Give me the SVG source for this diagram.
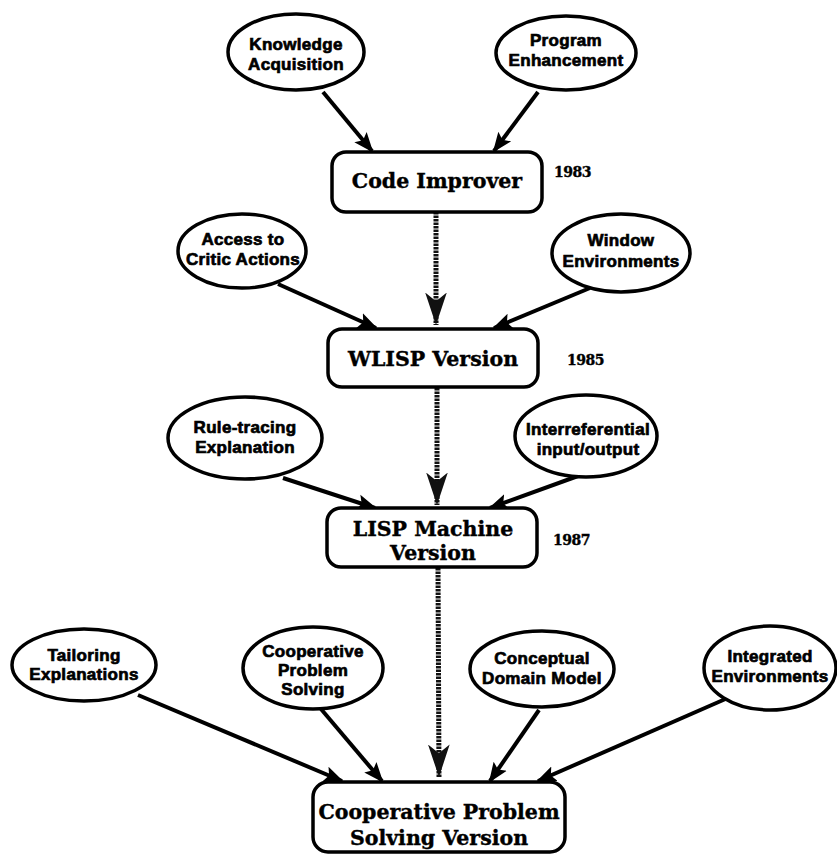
<svg xmlns="http://www.w3.org/2000/svg" width="837" height="856" viewBox="0 0 837 856">
  <style>
    .oval ellipse { fill: #fff; stroke: #000; stroke-width: 3.5; }
    .oval text { font-family: "Liberation Sans", Arial, sans-serif; font-weight: bold; font-size: 17px; text-anchor: middle; fill: #000; stroke: #000; stroke-width: 0.7; letter-spacing: 0.3px; }
    .box rect { fill: #fff; stroke: #000; stroke-width: 3.5; }
    .box text { font-family: "DejaVu Serif", "Liberation Serif", serif; font-weight: bold; font-size: 20.5px; text-anchor: middle; fill: #000; stroke: #000; stroke-width: 0.4; }
    .year { font-family: "DejaVu Serif", "Liberation Serif", serif; font-weight: bold; font-size: 14px; fill: #000; stroke: #000; stroke-width: 0.4; letter-spacing: -0.5px; }
    .edge { stroke: #000; stroke-width: 4; fill: none; marker-end: url(#head); }
    .trunk { stroke: #111; stroke-width: 5; stroke-dasharray: 2.5 1; fill: none; marker-end: url(#trunkhead); }
  </style>
  <defs>
    <marker id="head" viewBox="0 0 10 10" refX="9" refY="5" markerWidth="5" markerHeight="5" orient="auto" markerUnits="strokeWidth">
      <path d="M0,1 L10,5 L0,9 L2,5 Z" fill="#000"/>
    </marker>
    <marker id="trunkhead" viewBox="0 0 15 10" refX="15" refY="5" markerWidth="6.5" markerHeight="4.4" orient="auto" markerUnits="strokeWidth">
      <path d="M0,0 L15,5 L0,10 L4,5 Z" fill="#111"/>
    </marker>
  </defs>

  <g id="connectors">
    <!-- main version line -->
    <line class="trunk" x1="436" y1="212" x2="436" y2="325"/>
    <line class="trunk" x1="437" y1="388" x2="437" y2="505"/>
    <line class="trunk" x1="438" y1="568" x2="439" y2="777"/>
    <!-- feature inputs -->
    <line class="edge" x1="323" y1="92" x2="372" y2="151"/>
    <line class="edge" x1="538" y1="92" x2="494" y2="151"/>
    <line class="edge" x1="278" y1="284" x2="376" y2="328"/>
    <line class="edge" x1="590" y1="288" x2="494" y2="328"/>
    <line class="edge" x1="283" y1="478" x2="375" y2="508"/>
    <line class="edge" x1="578" y1="476" x2="490" y2="508"/>
    <line class="edge" x1="138" y1="695" x2="342" y2="781"/>
    <line class="edge" x1="321" y1="709" x2="382" y2="781"/>
    <line class="edge" x1="539" y1="710" x2="490" y2="781"/>
    <line class="edge" x1="730" y1="697" x2="538" y2="781"/>
  </g>

  <g id="knowledge-acquisition" class="oval">
    <ellipse cx="296" cy="52" rx="68" ry="38"/>
    <text x="296" y="50">Knowledge</text>
    <text x="296" y="70">Acquisition</text>
  </g>
  <g id="program-enhancement" class="oval">
    <ellipse cx="566" cy="53" rx="70" ry="37"/>
    <text x="566" y="46">Program</text>
    <text x="566" y="66">Enhancement</text>
  </g>
  <g id="code-improver" class="box">
    <rect x="332" y="152" width="210" height="60" rx="14"/>
    <text x="437" y="188">Code Improver</text>
  </g>
  <text class="year" x="554" y="177">1983</text>

  <g id="access-critic" class="oval">
    <ellipse cx="242" cy="251" rx="64" ry="37"/>
    <text x="243" y="245">Access to</text>
    <text x="243" y="265">Critic Actions</text>
  </g>
  <g id="window-environments" class="oval">
    <ellipse cx="621" cy="253" rx="69" ry="39"/>
    <text x="621" y="246">Window</text>
    <text x="621" y="267">Environments</text>
  </g>
  <g id="wlisp-version" class="box">
    <rect x="328" y="329" width="210" height="58" rx="14"/>
    <text x="433" y="366">WLISP Version</text>
  </g>
  <text class="year" x="567" y="365">1985</text>

  <g id="rule-tracing" class="oval">
    <ellipse cx="245" cy="438" rx="77" ry="41"/>
    <text x="245" y="433">Rule-tracing</text>
    <text x="245" y="453">Explanation</text>
  </g>
  <g id="interreferential" class="oval">
    <ellipse cx="586" cy="436" rx="71" ry="41"/>
    <text x="588" y="435">Interreferential</text>
    <text x="588" y="455">input/output</text>
  </g>
  <g id="lisp-machine-version" class="box">
    <rect x="327" y="508" width="210" height="59" rx="14"/>
    <text x="433" y="536">LISP Machine</text>
    <text x="433" y="560">Version</text>
  </g>
  <text class="year" x="553" y="545">1987</text>

  <g id="tailoring-explanations" class="oval">
    <ellipse cx="84" cy="665" rx="72" ry="36"/>
    <text x="84" y="661">Tailoring</text>
    <text x="84" y="680">Explanations</text>
  </g>
  <g id="cooperative-problem-solving" class="oval">
    <ellipse cx="313" cy="668" rx="70" ry="41"/>
    <text x="313" y="657">Cooperative</text>
    <text x="313" y="676">Problem</text>
    <text x="313" y="695">Solving</text>
  </g>
  <g id="conceptual-domain-model" class="oval">
    <ellipse cx="542" cy="669" rx="72" ry="38"/>
    <text x="542" y="664">Conceptual</text>
    <text x="542" y="684">Domain Model</text>
  </g>
  <g id="integrated-environments" class="oval">
    <ellipse cx="770" cy="668" rx="66" ry="42"/>
    <text x="770" y="662">Integrated</text>
    <text x="770" y="682">Environments</text>
  </g>
  <g id="cooperative-version" class="box">
    <rect x="313" y="782" width="252" height="70" rx="15"/>
    <text x="439" y="819">Cooperative Problem</text>
    <text x="439" y="845">Solving Version</text>
  </g>
</svg>
